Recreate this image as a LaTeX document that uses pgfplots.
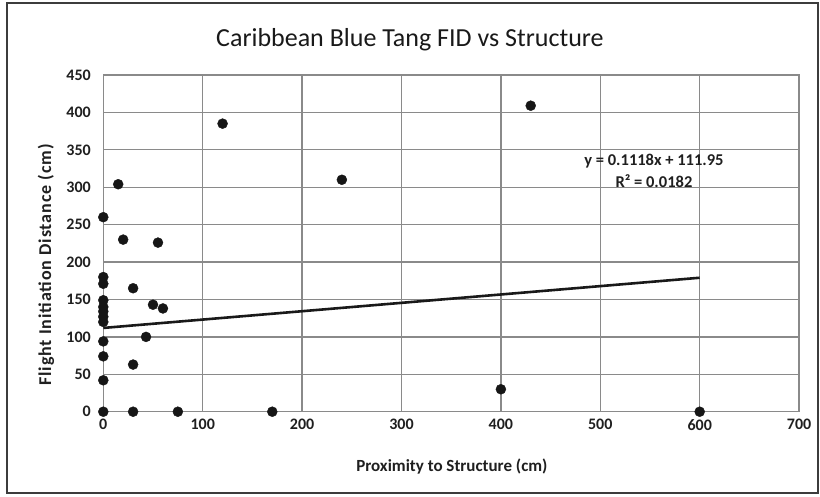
\documentclass[border=0pt]{standalone}
\usepackage{fontspec}
\setmainfont{Carlito}
\usepackage{pgfplots}
\pgfplotsset{compat=1.18}
\definecolor{gridgray}{RGB}{138,138,138}
\definecolor{dotblack}{RGB}{22,22,22}
\definecolor{framegray}{RGB}{60,60,60}

% FID observations: proximity to structure (cm), flight initiation distance (cm)
\begin{document}
\begin{tikzpicture}[x=1pt,y=1pt]
\useasboundingbox (0pt,0pt) rectangle (820pt,-496pt);
\draw[line width=2pt, framegray] (7pt,-3pt) rectangle (818pt,-493pt);
\begin{axis}[
  at={(103.3pt,-411.7pt)}, anchor=south west,
  scale only axis, width=695.8pt, height=336.7pt,
  xmin=0, xmax=700, ymin=0, ymax=450,
  xtick={0,100,...,700}, ytick={0,50,...,450},
  major tick length=0pt,
  grid=major,
  grid style={gridgray, line width=1.3pt},
  axis line style={gridgray, line width=1.5pt},
  tick label style={font=\fontsize{16}{18}\selectfont\bfseries, text=black!88},
  /pgf/number format/assume math mode=true,
  xticklabel style={yshift=-4pt},
  yticklabel style={xshift=-9pt},
  title={Caribbean Blue Tang FID vs Structure},
  title style={at={(axis description cs:0.4407,1.087)}, anchor=center,
    font=\fontsize{26}{30}\selectfont, text=black!90},
  xlabel={Proximity to Structure (cm)},
  xlabel style={at={(axis description cs:0.501,-0.164)}, anchor=center,
    font=\fontsize{17}{20}\selectfont\bfseries, text=black!88},
  ylabel={Flight Initiation Distance (cm)},
  ylabel style={at={(axis description cs:-0.0824,0.4357)}, anchor=center,
    rotate=0, font=\fontsize{18}{20}\selectfont\bfseries\addfontfeatures{LetterSpace=5},
    text=black!88},
  clip=false,
]
\addplot[only marks, mark=*, mark size=5pt, color=dotblack] table {
x y
0 0
30 0
75 0
170 0
600 0
400 30
0 42
0 74
0 94
30 63
43 100
0 120
0 127
0 134
0 140
0 149
50 143
60 138
30 165
0 171
0 180
20 230
55 226
0 260
15 304
120 385
240 310
430 409
};
% linear trendline y = 0.1118x + 111.95
\addplot[color=black!90, line width=2.6pt] coordinates {(0,111.95) (600,179.03)};
\node[align=center, font=\fontsize{16.5}{21.7}\selectfont\bfseries, text=black!88]
  at (axis cs:554,322) {y = 0.1118x + 111.95\\R² = 0.0182};
\end{axis}
\end{tikzpicture}
\end{document}
